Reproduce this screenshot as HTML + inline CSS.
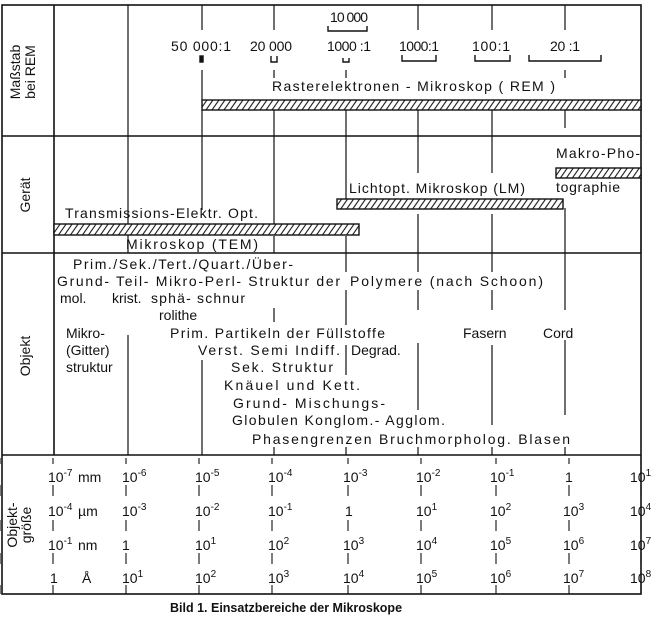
<!DOCTYPE html>
<html><head><meta charset="utf-8"><style>
html,body{margin:0;padding:0;background:#fff;}
svg{display:block;}
text{font-family:"Liberation Sans",sans-serif;font-size:14px;fill:#111;}
.s{font-size:10px;}
</style></head><body>
<svg width="658" height="625" viewBox="0 0 658 625" xmlns="http://www.w3.org/2000/svg">
<defs>
<pattern id="h" width="6" height="12" patternUnits="userSpaceOnUse" patternTransform="skewX(-35)">
<rect width="6" height="12" fill="#fff"/><line x1="1" y1="0" x2="1" y2="12" stroke="#111" stroke-width="1.3"/>
</pattern>
</defs>
<g stroke="#111" fill="none" stroke-width="1.6">
<rect x="2" y="5" width="639" height="589"/>
<line x1="2" y1="136" x2="641" y2="136"/>
<line x1="2" y1="253" x2="641" y2="253"/>
<line x1="2" y1="455" x2="641" y2="455"/>
<line x1="54" y1="5" x2="54" y2="455"/>
</g>
<g stroke="#111" stroke-width="1.2">
<line x1="128" y1="5" x2="128" y2="253"/>
<line x1="202" y1="5" x2="202" y2="30"/><line x1="202" y1="70" x2="202" y2="100"/><line x1="202" y1="110" x2="202" y2="210"/>
<line x1="274" y1="5" x2="274" y2="30"/><line x1="274" y1="70" x2="274" y2="78"/><line x1="274" y1="110" x2="274" y2="224"/>
<line x1="346" y1="70" x2="346" y2="78"/><line x1="346" y1="110" x2="346" y2="199"/>
<line x1="418" y1="5" x2="418" y2="30"/><line x1="418" y1="110" x2="418" y2="173"/>
<line x1="492" y1="5" x2="492" y2="30"/><line x1="492" y1="110" x2="492" y2="173"/>
<line x1="565" y1="5" x2="565" y2="30"/><line x1="565" y1="70" x2="565" y2="78"/><line x1="565" y1="110" x2="565" y2="128"/>
<line x1="274" y1="236" x2="274" y2="253"/>
<line x1="346" y1="236" x2="346" y2="253"/>
<line x1="418" y1="214" x2="418" y2="253"/>
<line x1="492" y1="214" x2="492" y2="253"/>
<line x1="565" y1="208" x2="565" y2="253"/>
<line x1="641" y1="178" x2="641" y2="253"/>
<line x1="346" y1="253" x2="346" y2="272"/><line x1="346" y1="290" x2="346" y2="325"/><line x1="346" y1="345" x2="346" y2="375"/>
<line x1="418" y1="253" x2="418" y2="272"/><line x1="418" y1="290" x2="418" y2="310"/><line x1="418" y1="343" x2="418" y2="410"/>
<line x1="492" y1="253" x2="492" y2="272"/><line x1="492" y1="290" x2="492" y2="310"/><line x1="492" y1="345" x2="492" y2="425"/>
<line x1="565" y1="253" x2="565" y2="310"/><line x1="565" y1="340" x2="565" y2="415"/>
<line x1="274" y1="308" x2="274" y2="322"/>
<line x1="128" y1="335" x2="128" y2="455"/>
<line x1="202" y1="360" x2="202" y2="455"/>
<line x1="274" y1="447" x2="274" y2="455"/>
<line x1="346" y1="447" x2="346" y2="455"/>
<line x1="418" y1="447" x2="418" y2="455"/>
<line x1="492" y1="447" x2="492" y2="455"/>
<line x1="565" y1="447" x2="565" y2="455"/>
</g>
<g stroke="#111" stroke-width="1.4" fill="none">
<rect x="200" y="56" width="3" height="6" fill="#111"/>
<path d="M271 56 V62 H277 V56"/>
<path d="M343 58 V62 H349 V58"/>
<path d="M328 26 V31 H367 V26"/>
<path d="M402 55 V61 H436 V55"/>
<path d="M475 55 V61 H510 V55"/>
<path d="M529 55 V61 H601 V55"/>
</g>
<text x="171" y="51" textLength="60">50 000:1</text>
<text x="250" y="51" textLength="42">20 000</text>
<text x="330" y="22" textLength="38">10 000</text>
<text x="327" y="51" textLength="44">1000 :1</text>
<text x="399" y="51" textLength="40">1000:1</text>
<text x="472" y="51" textLength="38">100:1</text>
<text x="550" y="51" textLength="30">20 :1</text>
<text x="272" y="91" textLength="283" lengthAdjust="spacing">Rasterelektronen - Mikroskop ( REM )</text>
<g stroke="#111" stroke-width="1.4">
<rect x="202" y="100" width="439" height="10" fill="url(#h)"/>
<rect x="556" y="168" width="85" height="10" fill="url(#h)"/>
<rect x="337" y="199" width="226" height="10" fill="url(#h)"/>
<rect x="54" y="224" width="305" height="11" fill="url(#h)"/>
</g>
<text x="556" y="158" textLength="84">Makro-Pho-</text>
<text x="556" y="192" textLength="64">tographie</text>
<text x="349" y="193" textLength="176" lengthAdjust="spacing">Lichtopt. Mikroskop (LM)</text>
<text x="65" y="218" textLength="193" lengthAdjust="spacing">Transmissions-Elektr. Opt.</text>
<text x="126" y="249" textLength="132" lengthAdjust="spacing">Mikroskop (TEM)</text>
<text x="73" y="269" textLength="220">Prim./Sek./Tert./Quart./Über-</text>
<text x="57" y="286" textLength="283" lengthAdjust="spacing">Grund- Teil- Mikro-Perl- Struktur der</text>
<text x="350" y="286" textLength="193" lengthAdjust="spacing">Polymere (nach Schoon)</text>
<text x="60" y="303">mol.</text><text x="112" y="303">krist.</text><text x="151" y="303" textLength="94" lengthAdjust="spacing">sphä- schnur</text>
<text x="159" y="320">rolithe</text>
<text x="66" y="338">Mikro-</text>
<text x="170" y="338" textLength="215" lengthAdjust="spacing">Prim. Partikeln der Füllstoffe</text>
<text x="463" y="338">Fasern</text>
<text x="543" y="338">Cord</text>
<text x="66" y="355">(Gitter)</text>
<text x="198" y="355" textLength="142" lengthAdjust="spacing">Verst. Semi Indiff.</text>
<text x="351" y="355">Degrad.</text>
<text x="66" y="372">struktur</text>
<text x="231" y="372" textLength="102" lengthAdjust="spacing">Sek. Struktur</text>
<text x="224" y="390" textLength="136" lengthAdjust="spacing">Knäuel und Kett.</text>
<text x="233" y="408" textLength="152" lengthAdjust="spacing">Grund- Mischungs-</text>
<text x="232" y="425" textLength="213" lengthAdjust="spacing">Globulen Konglom.- Agglom.</text>
<text x="252" y="444" textLength="318" lengthAdjust="spacing">Phasengrenzen Bruchmorpholog. Blasen</text>
<g stroke="#111" stroke-width="1.1">
<g id="tk">
<line x1="0" y1="458" x2="0" y2="464"/>
<line x1="0" y1="485" x2="0" y2="496"/>
<line x1="0" y1="520" x2="0" y2="531"/>
<line x1="0" y1="553" x2="0" y2="564"/>
<line x1="0" y1="585" x2="0" y2="594"/>
</g>
<use href="#tk" x="53"/><use href="#tk" x="126"/><use href="#tk" x="199"/><use href="#tk" x="272"/><use href="#tk" x="348"/><use href="#tk" x="421"/><use href="#tk" x="496"/><use href="#tk" x="569"/><use href="#tk" x="641"/>
</g>
<g>
<text x="48" y="482">10<tspan class="s" dy="-6">-7</tspan></text><text x="78" y="482">mm</text>
<text x="122" y="482">10<tspan class="s" dy="-6">-6</tspan></text>
<text x="195" y="482">10<tspan class="s" dy="-6">-5</tspan></text>
<text x="268" y="482">10<tspan class="s" dy="-6">-4</tspan></text>
<text x="343" y="482">10<tspan class="s" dy="-6">-3</tspan></text>
<text x="416" y="482">10<tspan class="s" dy="-6">-2</tspan></text>
<text x="490" y="482">10<tspan class="s" dy="-6">-1</tspan></text>
<text x="565" y="482">1</text>
<text x="630" y="482">10<tspan class="s" dy="-6">1</tspan></text>
<text x="48" y="516">10<tspan class="s" dy="-6">-4</tspan></text><text x="78" y="516">µm</text>
<text x="122" y="516">10<tspan class="s" dy="-6">-3</tspan></text>
<text x="195" y="516">10<tspan class="s" dy="-6">-2</tspan></text>
<text x="268" y="516">10<tspan class="s" dy="-6">-1</tspan></text>
<text x="345" y="516">1</text>
<text x="416" y="516">10<tspan class="s" dy="-6">1</tspan></text>
<text x="490" y="516">10<tspan class="s" dy="-6">2</tspan></text>
<text x="563" y="516">10<tspan class="s" dy="-6">3</tspan></text>
<text x="630" y="516">10<tspan class="s" dy="-6">4</tspan></text>
<text x="48" y="550">10<tspan class="s" dy="-6">-1</tspan></text><text x="78" y="550">nm</text>
<text x="122" y="550">1</text>
<text x="195" y="550">10<tspan class="s" dy="-6">1</tspan></text>
<text x="268" y="550">10<tspan class="s" dy="-6">2</tspan></text>
<text x="343" y="550">10<tspan class="s" dy="-6">3</tspan></text>
<text x="416" y="550">10<tspan class="s" dy="-6">4</tspan></text>
<text x="490" y="550">10<tspan class="s" dy="-6">5</tspan></text>
<text x="563" y="550">10<tspan class="s" dy="-6">6</tspan></text>
<text x="630" y="550">10<tspan class="s" dy="-6">7</tspan></text>
<text x="50" y="583">1</text><text x="82" y="583">Å</text>
<text x="122" y="583">10<tspan class="s" dy="-6">1</tspan></text>
<text x="195" y="583">10<tspan class="s" dy="-6">2</tspan></text>
<text x="268" y="583">10<tspan class="s" dy="-6">3</tspan></text>
<text x="343" y="583">10<tspan class="s" dy="-6">4</tspan></text>
<text x="416" y="583">10<tspan class="s" dy="-6">5</tspan></text>
<text x="490" y="583">10<tspan class="s" dy="-6">6</tspan></text>
<text x="563" y="583">10<tspan class="s" dy="-6">7</tspan></text>
<text x="630" y="583">10<tspan class="s" dy="-6">8</tspan></text>
</g>
<text transform="translate(20,72) rotate(-90)" text-anchor="middle">Maßstab</text>
<text transform="translate(35,72) rotate(-90)" text-anchor="middle">bei  REM</text>
<text transform="translate(30,195) rotate(-90)" text-anchor="middle">Gerät</text>
<text transform="translate(30,356) rotate(-90)" text-anchor="middle">Objekt</text>
<text transform="translate(17,525) rotate(-90)" text-anchor="middle">Objekt-</text>
<text transform="translate(31,525) rotate(-90)" text-anchor="middle">größe</text>
<text x="170" y="612" style="font-size:12.5px;font-weight:bold">Bild 1. Einsatzbereiche der Mikroskope</text>
</svg>
</body></html>
